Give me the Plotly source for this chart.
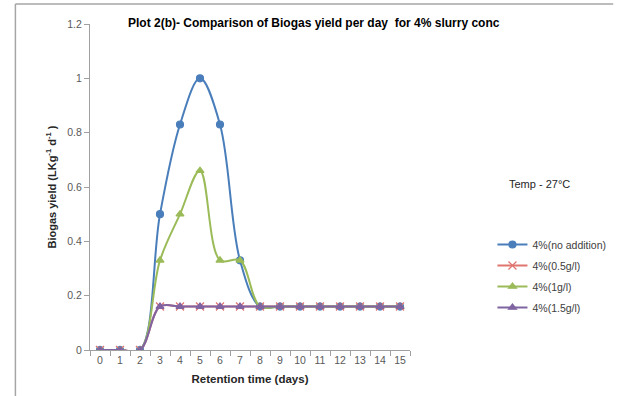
import plotly.graph_objects as go

days = [str(d) for d in range(16)]
no_addition = [0, 0, 0, 0.5, 0.83, 1.0, 0.83, 0.33, 0.16, 0.16, 0.16, 0.16, 0.16, 0.16, 0.16, 0.16]
g05 = [0, 0, 0, 0.16, 0.16, 0.16, 0.16, 0.16, 0.16, 0.16, 0.16, 0.16, 0.16, 0.16, 0.16, 0.16]
g1 = [0, 0, 0, 0.33, 0.5, 0.66, 0.33, 0.33, 0.16, 0.16, 0.16, 0.16, 0.16, 0.16, 0.16, 0.16]
g15 = [0, 0, 0, 0.16, 0.16, 0.16, 0.16, 0.16, 0.16, 0.16, 0.16, 0.16, 0.16, 0.16, 0.16, 0.16]

series = [
    ("4%(no addition)", no_addition, "#4A7EBB", "circle", 7),
    ("4%(0.5g/l)", g05, "#E0746F", "x-thin-open", 8),
    ("4%(1g/l)", g1, "#9BBB59", "triangle-up", 7),
    ("4%(1.5g/l)", g15, "#8064A2", "triangle-up", 7),
]

fig = go.Figure()
for name, vals, color, sym, size in series:
    fig.add_trace(go.Scatter(
        x=days, y=vals, name=name, mode="lines+markers", legendgroup=name,
        line=dict(color=color, width=2, shape="spline", smoothing=1),
        marker=dict(symbol=sym, size=size, color=color,
                    line=dict(color=color, width=1.2)),
    ))

L, R, T, B = 90, 207, 24, 46
W, H = 623, 396
pw = W - L - R
ph = H - T - B

def px(x):
    return (x - L) / pw

def py(y):
    return (H - B - y) / ph

fig.update_layout(
    width=W, height=H,
    margin=dict(l=L, r=R, t=T, b=B),
    paper_bgcolor="white", plot_bgcolor="white",
    font=dict(family="Liberation Sans, Arial, sans-serif", color="#404040"),
    showlegend=True,
    legend=dict(x=px(500), y=py(230), xanchor="left", yanchor="top",
                font=dict(size=10.5, color="#404040"), tracegroupgap=2,
                itemwidth=30, bgcolor="rgba(0,0,0,0)"),
    xaxis=dict(type="category", tickson="boundaries", ticks="outside", ticklen=5,
               tickcolor="#A0A0A0", showline=True, linecolor="#A0A0A0", linewidth=1,
               showgrid=False, zeroline=False, range=[-0.5, 15.5], tickangle=0,
               tickfont=dict(size=10.5, color="#595959"),
               title=dict(text="<b>Retention time (days)</b>", font=dict(size=11.5, color="#262626"), standoff=10)),
    yaxis=dict(range=[0, 1.2], dtick=0.2, ticks="outside", ticklen=5,
               tickcolor="#A0A0A0", showline=True, linecolor="#A0A0A0", linewidth=1,
               showgrid=False, zeroline=False,
               tickfont=dict(size=10.5, color="#595959"),
               title=dict(text="<b>Biogas yield (LKg<sup>-1</sup> d<sup>-1</sup> )</b>",
                          font=dict(size=11, color="#262626"), standoff=8)),
    annotations=[
        dict(text="<b>Plot 2(b)- Comparison of Biogas yield per day  for 4% slurry conc</b>",
             xref="paper", yref="paper", x=px(318), y=py(23), xanchor="center", yanchor="middle",
             showarrow=False, font=dict(size=12, color="#000000")),
        dict(text="Temp - 27°C", xref="paper", yref="paper", x=px(548), y=py(184),
             xanchor="center", yanchor="middle",
             showarrow=False, font=dict(size=11, color="#262626")),
    ],
    shapes=[
        dict(type="line", xref="paper", yref="paper", x0=px(14), x1=px(623), y0=py(4), y1=py(4),
             line=dict(color="#A6A6A6", width=1.5)),
        dict(type="line", xref="paper", yref="paper", x0=px(14), x1=px(14), y0=py(4), y1=py(396),
             line=dict(color="#A6A6A6", width=1.5)),
    ],
)

fig.write_html("out.html")
